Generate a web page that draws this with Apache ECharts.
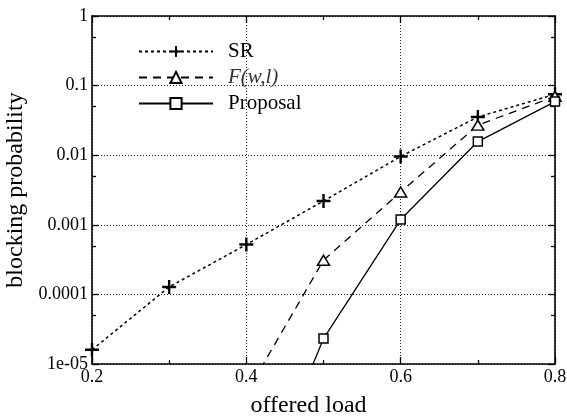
<!DOCTYPE html>
<html><head><meta charset="utf-8">
<script src="https://cdn.jsdelivr.net/npm/echarts@6/dist/echarts.min.js"></script>
<style>html,body{margin:0;padding:0;background:#fff}#c{width:567px;height:417px}</style>
</head><body><div id="c"></div>
<script>
const xValues = [0.2, 0.3, 0.4, 0.5, 0.6, 0.7, 0.8];
const srValues = [1.6e-5, 1.28e-4, 5.2e-4, 2.2e-3, 9.6e-3, 0.0354, 0.075];
const fwlValues = [null, null, 3.8e-6, 3.1e-4, 2.96e-3, 0.027, 0.070];
const proposalValues = [null, null, 4.6e-8, 2.32e-5, 1.19e-3, 0.0157, 0.059];
const seriesNames = ['SR', 'F(w,l)', 'Proposal'];
const xTickLabels = ['0.2', '0.4', '0.6', '0.8'];
const yTickLabels = ['1e-05', '0.0001', '0.001', '0.01', '0.1', '1'];
const yMinorTicks = [5e-5, 5e-4, 5e-3, 5e-2, 0.5];

const FONT = 'Liberation Serif';
const pairs = vals => xValues.map((x, i) => [x, vals[i]]).filter(p => p[1] != null);
const plusPath = 'path://M5.8,0H8.2V5.8H14V8.2H8.2V14H5.8V8.2H0V5.8H5.8Z';

const chart = echarts.init(document.getElementById('c'), null, {renderer: 'canvas'});

const gridLine = {show: true, lineStyle: {color: '#222', width: 1, type: [1, 2]}};
const axLine = {show: true, onZero: false, lineStyle: {color: '#000', width: 1.6}};
const minorAxisBase = {
  type: 'value', min: -5, max: 0, axisLine: {show: false}, axisLabel: {show: false},
  splitLine: {show: false},
  axisTick: {show: true, inside: true, length: 4, lineStyle: {color: '#000', width: 1.3},
    customValues: yMinorTicks.map(v => Math.log10(v))}
};

function legendAt(name, top, rich) {
  return {
    data: [name], left: 133, top: top, orient: 'vertical',
    itemWidth: 74, itemHeight: 14, selectedMode: false,
    textStyle: Object.assign({fontFamily: FONT, fontSize: 21, color: '#000', padding: [0, 0, 0, 10]}, rich ? {rich: rich} : {}),
    formatter: rich ? (n => '{i|' + n + '}') : undefined
  };
}

chart.setOption({
  animation: false,
  backgroundColor: '#fff',
  grid: {left: 92, right: 12, top: 16, bottom: 53, outerBoundsMode: 'none', containLabel: false},
  legend: [
    legendAt(seriesNames[0], 36),
    legendAt(seriesNames[1], 62, {i: {fontFamily: FONT, fontSize: 21, fontStyle: 'italic', color: '#333'}}),
    legendAt(seriesNames[2], 88)
  ],
  xAxis: [{
    type: 'value', min: 0.2, max: 0.8, interval: 0.2, position: 'bottom',
    axisLine: axLine,
    axisTick: {show: true, inside: true, length: 7, lineStyle: {color: '#000', width: 1.3}},
    minorTick: {show: true, splitNumber: 2, length: 4, lineStyle: {color: '#000', width: 1.3}},
    axisLabel: {fontFamily: FONT, fontSize: 18, color: '#000', margin: 4,
      formatter: v => xTickLabels[Math.round((v - 0.2) / 0.2)]},
    splitLine: gridLine,
    name: 'offered load', nameLocation: 'middle', nameGap: 30,
    nameTextStyle: {fontFamily: FONT, fontSize: 24, color: '#000', padding: [0, 30, 0, 0]}
  }, {
    type: 'value', min: 0.2, max: 0.8, interval: 0.2, position: 'top',
    axisLine: axLine,
    axisTick: {show: true, inside: true, length: 7, lineStyle: {color: '#000', width: 1.3}},
    minorTick: {show: true, splitNumber: 2, length: 4, lineStyle: {color: '#000', width: 1.3}},
    axisLabel: {show: false}, splitLine: {show: false}
  }],
  yAxis: [{
    type: 'log', logBase: 10, min: 1e-5, max: 1, position: 'left',
    axisLine: axLine,
    axisTick: {show: true, inside: true, length: 7, lineStyle: {color: '#000', width: 1.3}},
    axisLabel: {fontFamily: FONT, fontSize: 18, color: '#000', margin: 4,
      formatter: v => yTickLabels[Math.round(Math.log10(v)) + 5]},
    splitLine: gridLine,
    name: 'blocking probability', nameLocation: 'middle', nameGap: 57,
    nameTextStyle: {fontFamily: FONT, fontSize: 24, color: '#000'}
  }, {
    type: 'log', logBase: 10, min: 1e-5, max: 1, position: 'right',
    axisLine: axLine,
    axisTick: {show: true, inside: true, length: 7, lineStyle: {color: '#000', width: 1.3}},
    axisLabel: {show: false}, splitLine: {show: false}
  },
  Object.assign({position: 'left'}, minorAxisBase),
  Object.assign({position: 'right'}, minorAxisBase)
  ],
  series: [{
    name: seriesNames[0], type: 'line', data: pairs(srValues), clip: true,
    symbol: plusPath, symbolSize: 14,
    lineStyle: {color: '#000', width: 1.5, type: [3, 3]},
    itemStyle: {color: '#000', borderWidth: 0}
  }, {
    name: seriesNames[1], type: 'line', data: pairs(fwlValues), clip: true,
    symbol: 'triangle', symbolSize: [12, 10],
    lineStyle: {color: '#000', width: 1.3, type: [8, 6]},
    itemStyle: {color: '#fff', borderColor: '#000', borderWidth: 1.5}
  }, {
    name: seriesNames[2], type: 'line', data: pairs(proposalValues), clip: true,
    symbol: 'rect', symbolSize: 9,
    lineStyle: {color: '#000', width: 1.3, type: 'solid'},
    itemStyle: {color: '#fff', borderColor: '#000', borderWidth: 1.5}
  }]
});
</script></body></html>
